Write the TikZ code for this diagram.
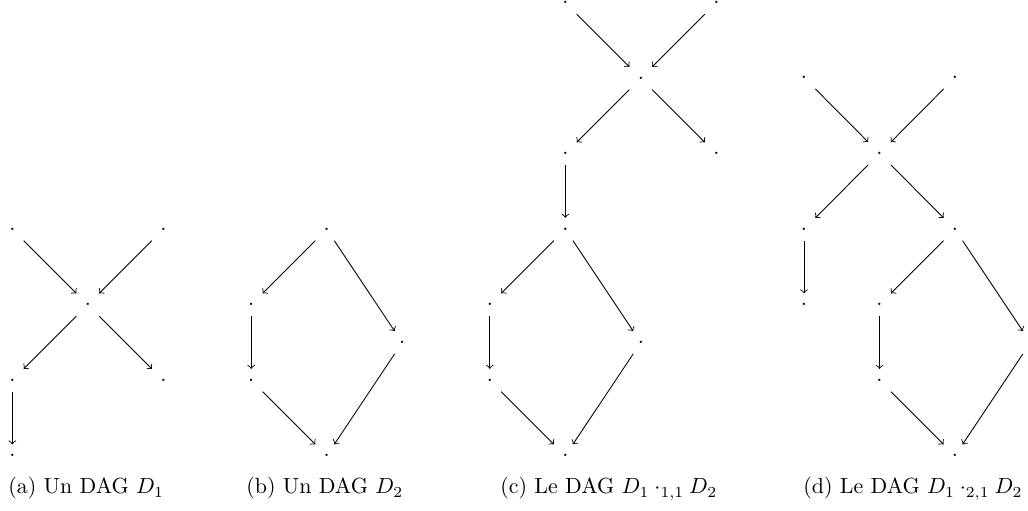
\documentclass[tikz,border=0pt]{standalone}
\begin{document}
\begin{tikzpicture}[x=0.4566pt,y=-0.4566pt,
  dotnode/.style={inner sep=0pt, minimum width=10pt, minimum height=10pt},
  arr/.style={->},
  captext/.style={anchor=base west, inner sep=0pt}]
\useasboundingbox (0,0) rectangle (1028,511);
% (a)
\node[dotnode] (a1) at (12.3,229.3) {.};
\node[dotnode] (a2) at (163.3,229.3) {.};
\node[dotnode] (a3) at (87.8,304.8) {.};
\node[dotnode] (a4) at (12.3,380.3) {.};
\node[dotnode] (a5) at (163.3,380.3) {.};
\node[dotnode] (a6) at (12.3,455.8) {.};
\draw[arr] (a1) -- (a3);
\draw[arr] (a2) -- (a3);
\draw[arr] (a3) -- (a4);
\draw[arr] (a3) -- (a5);
\draw[arr] (a4) -- (a6);
% (b)
\node[dotnode] (b1) at (326.7,229.3) {.};
\node[dotnode] (b2) at (251.2,304.8) {.};
\node[dotnode] (b3) at (402.2,342.5) {.};
\node[dotnode] (b4) at (251.2,380.3) {.};
\node[dotnode] (b5) at (326.7,455.8) {.};
\draw[arr] (b1) -- (b2);
\draw[arr] (b1) -- (b3);
\draw[arr] (b2) -- (b4);
\draw[arr] (b4) -- (b5);
\draw[arr] (b3) -- (b5);
% (c)
\node[dotnode] (c1) at (565.3,2.7) {.};
\node[dotnode] (c2) at (716.3,2.7) {.};
\node[dotnode] (c3) at (640.8,78.2) {.};
\node[dotnode] (c4) at (565.3,153.7) {.};
\node[dotnode] (c5) at (716.3,153.7) {.};
\node[dotnode] (c6) at (565.3,229.2) {.};
\node[dotnode] (c7) at (489.8,304.7) {.};
\node[dotnode] (c8) at (640.8,342.5) {.};
\node[dotnode] (c9) at (489.8,380.2) {.};
\node[dotnode] (c10) at (565.3,455.7) {.};
\draw[arr] (c1) -- (c3);
\draw[arr] (c2) -- (c3);
\draw[arr] (c3) -- (c4);
\draw[arr] (c3) -- (c5);
\draw[arr] (c4) -- (c6);
\draw[arr] (c6) -- (c7);
\draw[arr] (c6) -- (c8);
\draw[arr] (c7) -- (c9);
\draw[arr] (c9) -- (c10);
\draw[arr] (c8) -- (c10);
% (d)
\node[dotnode] (d1) at (804,77.5) {.};
\node[dotnode] (d2) at (955,77.5) {.};
\node[dotnode] (d3) at (879.5,153.5) {.};
\node[dotnode] (d4) at (804,229.3) {.};
\node[dotnode] (d5) at (955,229.3) {.};
\node[dotnode] (d6) at (804,304.8) {.};
\node[dotnode] (d7) at (879.5,304.8) {.};
\node[dotnode] (d8) at (1030.5,342.5) {.};
\node[dotnode] (d9) at (879.5,380.3) {.};
\node[dotnode] (d10) at (955,455.8) {.};
\draw[arr] (d1) -- (d3);
\draw[arr] (d2) -- (d3);
\draw[arr] (d3) -- (d4);
\draw[arr] (d3) -- (d5);
\draw[arr] (d4) -- (d6);
\draw[arr] (d5) -- (d7);
\draw[arr] (d5) -- (d8);
\draw[arr] (d7) -- (d9);
\draw[arr] (d9) -- (d10);
\draw[arr] (d8) -- (d10);
% captions
\node[captext] (ca) at (8,494) {(a) Un DAG $D_1$};
\node[captext] (cb) at (246,494) {(b) Un DAG $D_2$};
\node[captext] (cc) at (500,494) {(c) Le DAG $D_1 \cdot_{1,1} D_2$};
\node[captext] (cd) at (803,494) {(d) Le DAG $D_1 \cdot_{2,1} D_2$};
\end{tikzpicture}
\end{document}
